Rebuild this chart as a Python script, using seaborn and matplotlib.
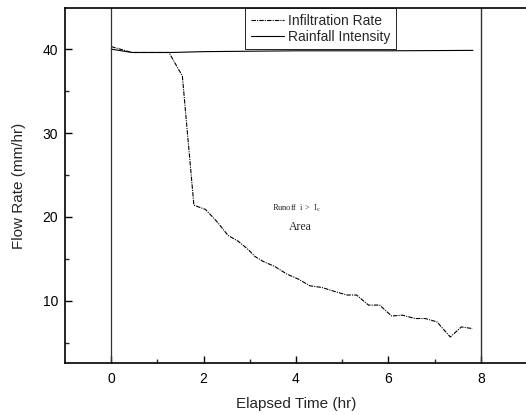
import numpy as np
import pandas as pd
import matplotlib
matplotlib.use("Agg")
import matplotlib.pyplot as plt
import seaborn as sns

# values
infil_time = [0.0, 0.45, 1.25, 1.54, 1.79, 2.04, 2.28, 2.53, 2.75, 2.97, 3.11, 3.29, 3.54,
              3.80, 4.05, 4.30, 4.56, 4.85, 5.10, 5.31, 5.57, 5.81, 6.07, 6.30, 6.58,
              6.80, 7.05, 7.34, 7.58, 7.82]
infil_rate = [40.3, 39.6, 39.6, 36.8, 21.4, 20.9, 19.5, 17.8, 17.1, 16.1, 15.3, 14.7, 14.1,
              13.2, 12.6, 11.8, 11.6, 11.1, 10.7, 10.7, 9.5, 9.5, 8.2, 8.3, 7.9,
              7.9, 7.5, 5.7, 6.9, 6.7]
rain_time = [0.0, 0.45, 1.3, 2.0, 4.0, 6.0, 7.83]
rain_rate = [40.0, 39.6, 39.6, 39.7, 39.8, 39.8, 39.85]

sns.set_style("ticks")
plt.rcParams['font.family'] = ['Liberation Sans', 'DejaVu Sans']

fig = plt.figure(figsize=(5.26, 4.15), dpi=100)
ax = fig.add_axes([65/526, 52/415, 462/526, 355/415])

df_inf = pd.DataFrame({"t": infil_time, "r": infil_rate})
df_rain = pd.DataFrame({"t": rain_time, "r": rain_rate})
sns.lineplot(data=df_inf, x="t", y="r", ax=ax, color="black", lw=0.8,
             linestyle=(0, (4, 1, 1, 1)), label="Infiltration Rate")
sns.lineplot(data=df_rain, x="t", y="r", ax=ax, color="black", lw=0.8,
             label="Rainfall Intensity")

ax.axvline(0, color="#333333", lw=0.9)
ax.axvline(8, color="#333333", lw=1.0)

ax.set_xlim(-1, 9)
ax.set_ylim(2.6, 44.9)
ax.set_xticks([0, 2, 4, 6, 8])
ax.set_xticks([1, 3, 5, 7], minor=True)
ax.set_yticks([10, 20, 30, 40])
ax.set_yticks([5, 15, 25, 35], minor=True)
ax.tick_params(direction="in", length=5, width=1, labelsize=10, colors="black")
ax.tick_params(axis="x", pad=6.5)
ax.tick_params(axis="y", pad=5)
ax.tick_params(which="minor", direction="in", length=3, width=1)
for s in ax.spines.values():
    s.set_linewidth(1.2)
    s.set_color("black")

ax.set_xlabel("Elapsed Time (hr)", fontsize=11, labelpad=8)
ax.set_ylabel("Flow Rate (mm/hr)", fontsize=11, labelpad=12)

ax.text(4.01, 21.05, r"Runoff  i >  I$_\mathregular{c}$", fontsize=6, family="Liberation Serif",
        ha="center", va="center")
ax.text(4.09, 18.8, "Area", fontsize=8.5, family="Liberation Serif", ha="center", va="center")

leg = ax.legend(loc="upper left", bbox_to_anchor=((245-65)/462, 1.0), fontsize=10,
                frameon=True, fancybox=False, framealpha=1, edgecolor="black",
                borderpad=0.4, handlelength=2.4, handletextpad=0.3, labelspacing=0.15,
                borderaxespad=0)
leg.get_frame().set_linewidth(0.6)

fig.savefig("out.png", dpi=100)
